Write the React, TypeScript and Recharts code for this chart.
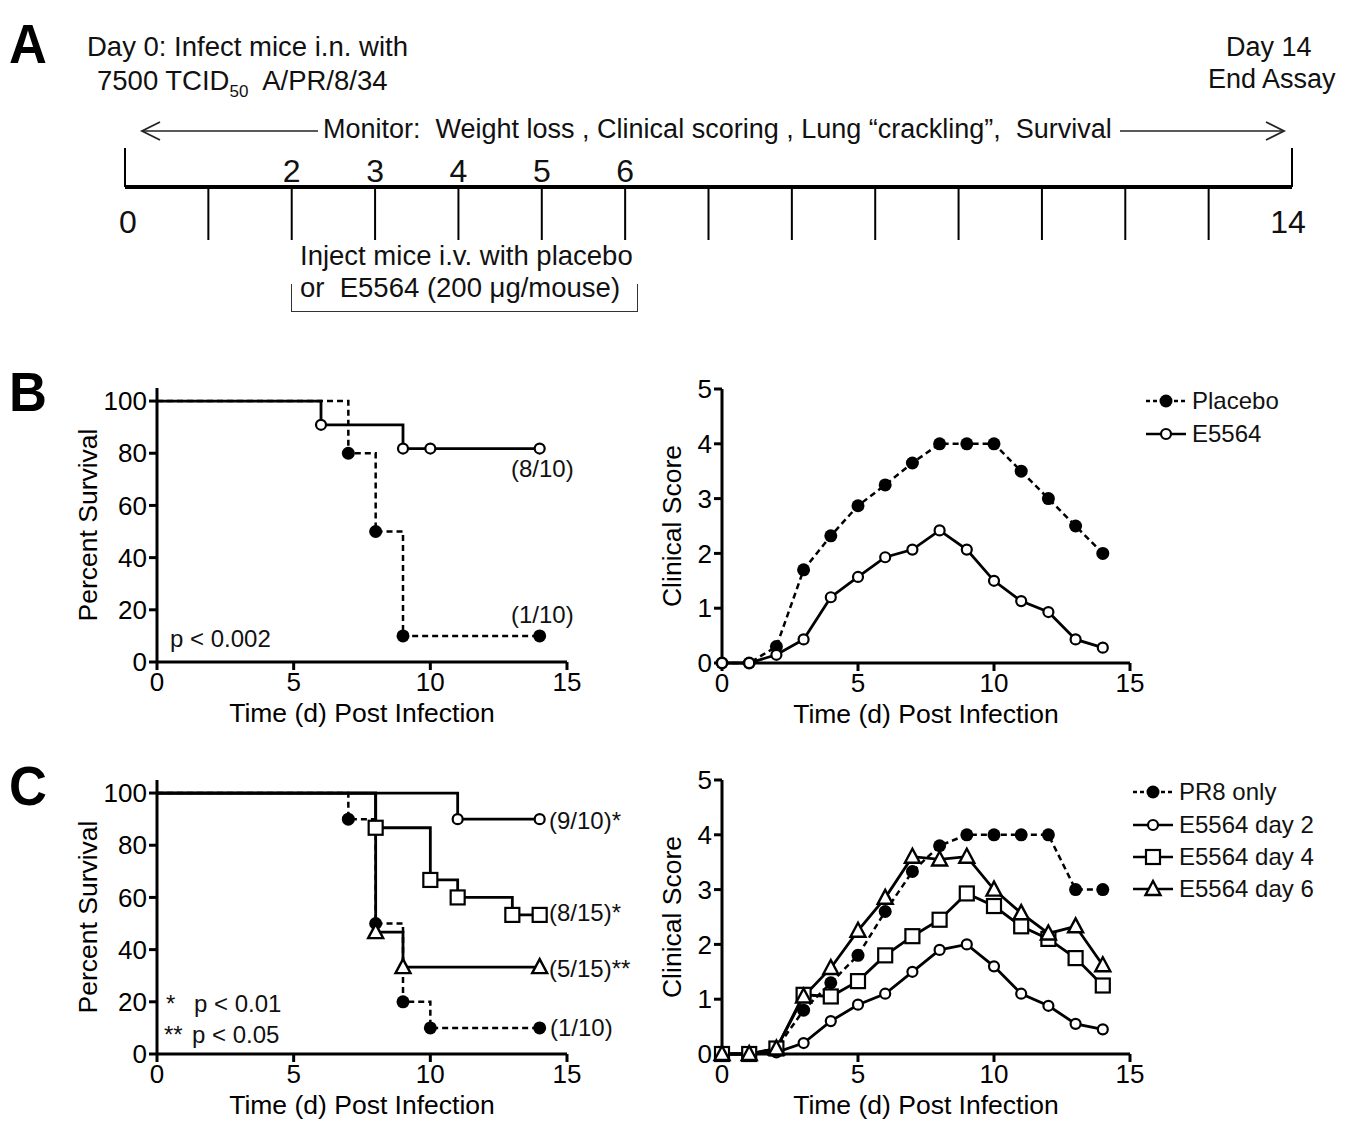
import React from "react";
import { LineChart, Line, XAxis, YAxis, Legend } from "recharts";

const SANS = '"Liberation Sans", Arial, Helvetica, sans-serif';
const NARROW = '"Liberation Sans Narrow", "Arial Narrow", "Liberation Sans", sans-serif';

// ---- Panel A: experiment timeline ----
const timelineDays = [0, 1, 2, 3, 4, 5, 6, 7, 8, 9, 10, 11, 12, 13, 14];
const injectionDays = [2, 3, 4, 5, 6];
const endDays = [0, 14];

// ---- Panel B: survival (% alive) ----
const bPlaceboDays = [0, 7, 8, 9, 14];
const bPlaceboPct = [100, 80, 50, 10, 10];
const bE5564Days = [0, 6, 9, 10, 14];
const bE5564Pct = [100, 90.9, 81.8, 81.8, 81.8];

// ---- Clinical score days ----
const scoreDays = [0, 1, 2, 3, 4, 5, 6, 7, 8, 9, 10, 11, 12, 13, 14];

// ---- Panel B: clinical score ----
const bPlaceboScore = [0, 0, 0.3, 1.7, 2.32, 2.87, 3.25, 3.65, 4.0, 4.0, 4.0, 3.5, 3.0, 2.5, 2.0];
const bE5564Score = [0, 0, 0.15, 0.43, 1.2, 1.57, 1.93, 2.07, 2.42, 2.07, 1.5, 1.13, 0.93, 0.43, 0.28];

// ---- Panel C: survival (% alive) ----
const cPr8Days = [0, 7, 8, 9, 10, 14];
const cPr8Pct = [100, 90, 50, 20, 10, 10];
const cDay2Days = [0, 11, 14];
const cDay2Pct = [100, 90, 90];
const cDay4Days = [0, 8, 10, 11, 13, 14];
const cDay4Pct = [100, 86.7, 66.7, 60, 53.3, 53.3];
const cDay6Days = [0, 8, 9, 14];
const cDay6Pct = [100, 46.7, 33.3, 33.3];

// ---- Panel C: clinical score ----
const cPr8Score = [0, 0, 0.1, 0.8, 1.3, 1.8, 2.6, 3.33, 3.8, 4.0, 4.0, 4.0, 4.0, 3.0, 3.0];
const cDay2Score = [0, 0, 0.03, 0.2, 0.6, 0.9, 1.1, 1.5, 1.9, 2.0, 1.6, 1.1, 0.88, 0.55, 0.45];
const cDay4Score = [0, 0, 0.1, 1.08, 1.05, 1.33, 1.8, 2.15, 2.45, 2.93, 2.7, 2.33, 2.1, 1.75, 1.25];
const cDay6Score = [0, 0, 0.1, 1.05, 1.57, 2.25, 2.85, 3.6, 3.55, 3.6, 3.0, 2.57, 2.2, 2.33, 1.62];

type Shape = "filled" | "circle" | "square" | "triangle";

const toSurvival = (days: number[], pct: number[]) =>
  days.map((d, i) => ({ day: d, pct: pct[i], mark: i > 0 }));
const toScore = (vals: number[]) => scoreDays.map((d, i) => ({ day: d, score: vals[i], mark: true }));

function drawMarker(cx: number, cy: number, shape: Shape, key?: string) {
  if (shape === "filled") return <circle key={key} cx={cx} cy={cy} r={6.5} fill="#000" />;
  if (shape === "circle")
    return <circle key={key} cx={cx} cy={cy} r={5} fill="#fff" stroke="#000" strokeWidth={2.2} />;
  if (shape === "square")
    return <rect key={key} x={cx - 7} y={cy - 7} width={14} height={14} fill="#fff" stroke="#000" strokeWidth={2.2} />;
  return (
    <polygon
      key={key}
      points={`${cx},${cy - 8} ${cx - 7.5},${cy + 6} ${cx + 7.5},${cy + 6}`}
      fill="#fff"
      stroke="#000"
      strokeWidth={2.4}
      strokeLinejoin="miter"
    />
  );
}

const dotFor = (shape: Shape) => (p: any) => {
  const k = `m-${p.index}`;
  if (!p.payload || !p.payload.mark || p.cx == null || p.cy == null) return <g key={k} />;
  return drawMarker(p.cx, p.cy, shape, k);
};

const axisStroke = { stroke: "#000", strokeWidth: 3 };
const tickStyle = { fill: "#000", fontSize: 26, fontFamily: NARROW };
const titleStyle = { fill: "#000", fontSize: 26.5, fontFamily: SANS, textAnchor: "middle" as const };

interface SeriesDef {
  name: string;
  data: any[];
  key: string;
  shape: Shape;
  dashed: boolean;
  step?: boolean;
}

function PlotPanel(props: {
  left: number;
  top: number;
  width: number;
  right: number;
  yDomain: [number, number];
  yTicks: number[];
  yTitle: string;
  yTitleX: number;
  series: SeriesDef[];
  legend?: { left: number; top: number; rowH: number };
}) {
  const { left, top, width, right, yDomain, yTicks, yTitle, yTitleX, series, legend } = props;
  return (
    <div style={{ position: "absolute", left, top }}>
      <LineChart
        width={width}
        height={358}
        margin={{ top: 18, right, left: 0, bottom: 0 }}
        style={{ fontFamily: SANS }}
      >
        <XAxis
          type="number"
          dataKey="day"
          domain={[0, 15]}
          ticks={[0, 5, 10, 15]}
          interval={0}
          height={66}
          axisLine={axisStroke}
          tickLine={axisStroke}
          tickSize={8}
          tickMargin={3}
          tick={tickStyle}
          label={{ value: "Time (d) Post Infection", position: "insideBottom", offset: 6, style: titleStyle }}
        />
        <YAxis
          type="number"
          domain={yDomain}
          ticks={yTicks}
          interval={0}
          width={157}
          axisLine={axisStroke}
          tickLine={axisStroke}
          tickSize={8}
          tickMargin={2}
          tick={tickStyle}
          label={{ value: yTitle, angle: -90, position: "insideLeft", offset: yTitleX, style: titleStyle }}
        />
        {legend && (
          <Legend
            layout="vertical"
            align="center"
            verticalAlign="middle"
            wrapperStyle={{ left: legend.left, top: legend.top, width: 220 }}
            content={() => (
              <div style={{ fontFamily: SANS, fontSize: 24, color: "#111" }}>
                {series.map((s) => (
                  <div key={s.name} style={{ display: "flex", alignItems: "center", height: legend.rowH }}>
                    <svg width={42} height={24} style={{ marginRight: 5 }}>
                      <line
                        x1={1}
                        y1={12}
                        x2={41}
                        y2={12}
                        stroke="#000"
                        strokeWidth={2.5}
                        strokeDasharray={s.dashed ? "4 3" : undefined}
                      />
                      {drawMarker(21, 12, s.shape)}
                    </svg>
                    <span>{s.name}</span>
                  </div>
                ))}
              </div>
            )}
          />
        )}
        {series.map((s) => (
          <Line
            key={s.name}
            name={s.name}
            data={s.data}
            dataKey={s.key}
            type={s.step ? "stepAfter" : "linear"}
            stroke="#000"
            strokeWidth={s.dashed ? 2.5 : 2.8}
            strokeDasharray={s.dashed ? "6 4" : undefined}
            dot={dotFor(s.shape)}
            activeDot={false}
            isAnimationActive={false}
          />
        ))}
      </LineChart>
    </div>
  );
}

const TimelineTick = (p: any) => {
  const { x, y, payload } = p;
  const v = payload.value;
  return (
    <g>
      {endDays.includes(v) ? (
        <>
          <line x1={x} y1={y} x2={x} y2={y - 39} stroke="#000" strokeWidth={2} />
          <text x={x + (v === 0 ? 3 : -4)} y={y + 46} textAnchor="middle" fontSize={32} fontFamily={SANS} fill="#111">
            {v}
          </text>
        </>
      ) : (
        <line x1={x} y1={y} x2={x} y2={y + 53} stroke="#000" strokeWidth={2} />
      )}
      {injectionDays.includes(v) && (
        <text x={x} y={y - 5} textAnchor="middle" fontSize={32} fontFamily={SANS} fill="#111">
          {v}
        </text>
      )}
    </g>
  );
};

const txt = (left: number, top: number, size: number, children: React.ReactNode, extra: any = {}) => (
  <div
    style={{
      position: "absolute",
      left,
      top,
      fontSize: size,
      lineHeight: 1,
      fontFamily: SANS,
      color: "#111",
      whiteSpace: "nowrap",
      ...extra,
    }}
  >
    {children}
  </div>
);

export default function App() {
  const timelineRows = timelineDays.map((d) => ({ day: d }));
  const letter = { fontFamily: NARROW, fontWeight: 700, color: "#000", transform: "scale(1.05, 1.12)", transformOrigin: "left top" };

  const bSurvival: SeriesDef[] = [
    { name: "Placebo", data: toSurvival(bPlaceboDays, bPlaceboPct), key: "pct", shape: "filled", dashed: true, step: true },
    { name: "E5564", data: toSurvival(bE5564Days, bE5564Pct), key: "pct", shape: "circle", dashed: false, step: true },
  ];
  const bScore: SeriesDef[] = [
    { name: "Placebo", data: toScore(bPlaceboScore), key: "score", shape: "filled", dashed: true },
    { name: "E5564", data: toScore(bE5564Score), key: "score", shape: "circle", dashed: false },
  ];
  const cSurvival: SeriesDef[] = [
    { name: "PR8 only", data: toSurvival(cPr8Days, cPr8Pct), key: "pct", shape: "filled", dashed: true, step: true },
    { name: "E5564 day 2", data: toSurvival(cDay2Days, cDay2Pct), key: "pct", shape: "circle", dashed: false, step: true },
    { name: "E5564 day 4", data: toSurvival(cDay4Days, cDay4Pct), key: "pct", shape: "square", dashed: false, step: true },
    { name: "E5564 day 6", data: toSurvival(cDay6Days, cDay6Pct), key: "pct", shape: "triangle", dashed: false, step: true },
  ];
  const cScore: SeriesDef[] = [
    { name: "PR8 only", data: toScore(cPr8Score), key: "score", shape: "filled", dashed: true },
    { name: "E5564 day 2", data: toScore(cDay2Score), key: "score", shape: "circle", dashed: false },
    { name: "E5564 day 4", data: toScore(cDay4Score), key: "score", shape: "square", dashed: false },
    { name: "E5564 day 6", data: toScore(cDay6Score), key: "score", shape: "triangle", dashed: false },
  ];

  return (
    <div style={{ position: "absolute", left: 0, top: 0, width: 1358, height: 1121, background: "#fff", overflow: "hidden" }}>
      {/* Panel A */}
      <div style={{ position: "absolute", left: 0, top: 0 }}>
        <LineChart width={1358} height={300} data={timelineRows} margin={{ top: 150, right: 66, left: 125, bottom: 53 }}>
          <XAxis
            type="number"
            dataKey="day"
            domain={[0, 14]}
            allowDataOverflow
            ticks={timelineDays}
            interval={0}
            height={60}
            tickSize={0}
            tickMargin={0}
            tickLine={false}
            axisLine={{ stroke: "#000", strokeWidth: 4 }}
            tick={<TimelineTick />}
          />
          <YAxis hide domain={[0, 1]} />
        </LineChart>
      </div>
      <svg style={{ position: "absolute", left: 0, top: 0 }} width={1358} height={300}>
        <line x1={142} y1={131} x2={318} y2={131} stroke="#222" strokeWidth={1.5} />
        <polyline points="160,122 142,131 160,140" fill="none" stroke="#222" strokeWidth={1.8} />
        <line x1={1120} y1={131} x2={1284} y2={131} stroke="#222" strokeWidth={1.5} />
        <polyline points="1266,122 1284,131 1266,140" fill="none" stroke="#222" strokeWidth={1.8} />
      </svg>
      {txt(9, 16, 50, "A", letter)}
      {txt(87, 33, 27.5, "Day 0: Infect mice i.n. with")}
      {txt(97, 67, 27.5, <>7500 TCID<sub style={{ fontSize: 17, verticalAlign: -7 }}>50</sub>&nbsp; A/PR/8/34</>)}
      {txt(1226, 34, 27, "Day 14")}
      {txt(1208, 66, 27, "End Assay")}
      {txt(323, 116, 27, <>Monitor:&nbsp; Weight loss , Clinical scoring , Lung “crackling”,&nbsp; Survival</>)}
      {txt(300, 242, 27.5, "Inject mice i.v. with placebo")}
      {txt(300, 274, 27.5, <>or&nbsp; E5564 (200 μg/mouse)</>)}
      <div
        style={{
          position: "absolute",
          left: 291,
          top: 284,
          width: 345,
          height: 27,
          borderLeft: "1.5px solid #333",
          borderRight: "1.5px solid #333",
          borderBottom: "1.5px solid #333",
        }}
      />

      {/* Panel B */}
      {txt(9, 364, 50, "B", letter)}
      <PlotPanel
        left={0}
        top={370}
        width={600}
        right={33}
        yDomain={[0, 105]}
        yTicks={[0, 20, 40, 60, 80, 100]}
        yTitle="Percent Survival"
        yTitleX={88}
        series={bSurvival}
      />
      {txt(511, 457, 24, "(8/10)")}
      {txt(511, 603, 24, "(1/10)")}
      {txt(170, 627, 24, "p < 0.002")}
      <PlotPanel
        left={565}
        top={371}
        width={793}
        right={228}
        yDomain={[0, 5]}
        yTicks={[0, 1, 2, 3, 4, 5]}
        yTitle="Clinical Score"
        yTitleX={107}
        series={bScore}
        legend={{ left: 580, top: 13, rowH: 33 }}
      />

      {/* Panel C */}
      {txt(9, 758, 50, "C", letter)}
      <PlotPanel
        left={0}
        top={762}
        width={600}
        right={33}
        yDomain={[0, 105]}
        yTicks={[0, 20, 40, 60, 80, 100]}
        yTitle="Percent Survival"
        yTitleX={88}
        series={cSurvival}
      />
      {txt(549, 809, 24, "(9/10)*")}
      {txt(549, 901, 24, "(8/15)*")}
      {txt(549, 957, 24, "(5/15)**")}
      {txt(550, 1016, 24, "(1/10)")}
      {txt(166, 992, 24, <><span style={{ display: "inline-block", width: 28 }}>*</span>p &lt; 0.01</>)}
      {txt(164, 1023, 24, <><span style={{ display: "inline-block", width: 28 }}>**</span>p &lt; 0.05</>)}
      <PlotPanel
        left={565}
        top={762}
        width={793}
        right={228}
        yDomain={[0, 5]}
        yTicks={[0, 1, 2, 3, 4, 5]}
        yTitle="Clinical Score"
        yTitleX={107}
        series={cScore}
        legend={{ left: 567, top: 14, rowH: 32.4 }}
      />
    </div>
  );
}
